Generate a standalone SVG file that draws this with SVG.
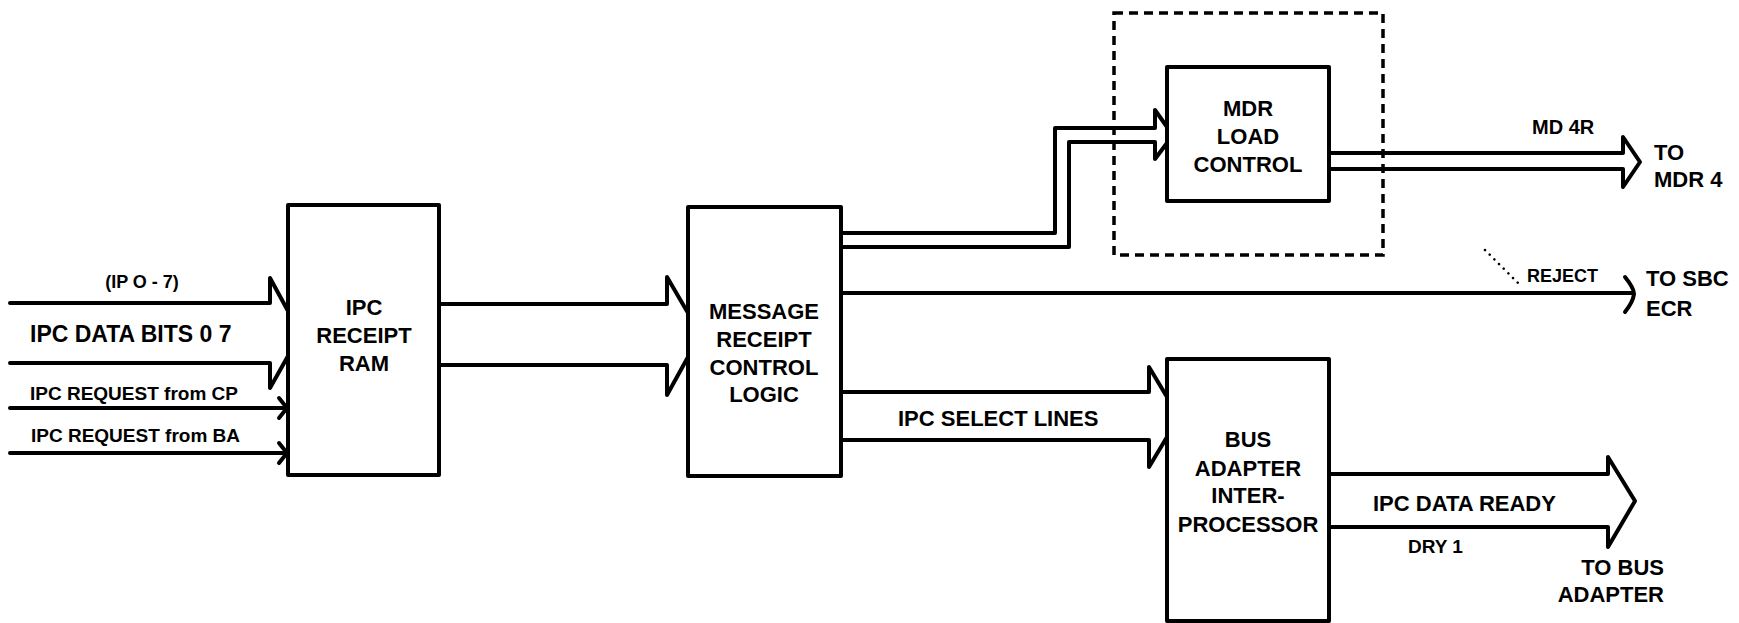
<svg xmlns="http://www.w3.org/2000/svg" width="1739" height="623" viewBox="0 0 1739 623">
<style>
.bg{fill:#ffffff}
.box{fill:#ffffff;stroke:#000;stroke-width:4;stroke-linejoin:round}
.dash{fill:none;stroke:#000;stroke-width:3.5;stroke-dasharray:9 6}
.ln{fill:none;stroke:#000;stroke-width:4;stroke-linejoin:round;stroke-linecap:round}
.dot{fill:none;stroke:#000;stroke-width:2.5;stroke-dasharray:0.1 6.5;stroke-linecap:round}
text{font-family:"Liberation Sans",Arial,sans-serif;font-weight:bold;fill:#000}
.c{text-anchor:middle;font-size:22px}
.l22{font-size:22px}
</style>
<rect class="bg" x="0" y="0" width="1739" height="623"/>
<g id="connectors">
  <!-- IPC data bits bus into RAM -->
  <path class="ln" d="M10,303 H270 V278 L288,311"/>
  <path class="ln" d="M10,363 H270 V388 L288,356"/>
  <!-- request lines -->
  <path class="ln" d="M10,408 H286"/>
  <path class="ln" d="M279,398 L287,408 L279,418"/>
  <path class="ln" d="M10,453 H286"/>
  <path class="ln" d="M279,443 L287,453 L279,463"/>
  <!-- RAM to MRCL -->
  <path class="ln" d="M439,304 H667 V277 L688,313"/>
  <path class="ln" d="M439,365 H667 V395 L688,357"/>
  <!-- MRCL to MDR LOAD CONTROL -->
  <path class="ln" d="M841,233 H1055 V128 H1155 V110 L1167,127"/>
  <path class="ln" d="M841,247 H1069 V142 H1155 V159 L1167,143"/>
  <!-- MD 4R output -->
  <path class="ln" d="M1329,153 H1623 V137 L1640,162 L1623,187 V169 H1329"/>
  <!-- REJECT -->
  <path class="ln" d="M841,293 H1632"/>
  <path class="ln" d="M1625,277 Q1634,288 1634,294 Q1633,302 1625,312"/>
  <path class="dot" d="M1485,250 L1521,286"/>
  <!-- IPC select lines -->
  <path class="ln" d="M841,392 H1149 V367 L1167,397"/>
  <path class="ln" d="M841,440 H1149 V467 L1167,437"/>
  <!-- IPC data ready -->
  <path class="ln" d="M1329,474 H1608 V457 L1635,501 L1608,547 V527 H1329"/>
</g>
<g id="dashed-group">
  <rect class="dash" x="1114" y="13" width="269" height="242"/>
</g>
<g id="ipc-receipt-ram">
  <rect class="box" x="288" y="205" width="151" height="270"/>
  <text class="c" x="364" y="315">IPC</text>
  <text class="c" x="364" y="343">RECEIPT</text>
  <text class="c" x="364" y="371">RAM</text>
</g>
<g id="message-receipt-control-logic">
  <rect class="box" x="688" y="207" width="153" height="269"/>
  <text class="c" x="764" y="319">MESSAGE</text>
  <text class="c" x="764" y="347">RECEIPT</text>
  <text class="c" x="764" y="375">CONTROL</text>
  <text class="c" x="764" y="402">LOGIC</text>
</g>
<g id="mdr-load-control">
  <rect class="box" x="1167" y="67" width="162" height="134"/>
  <text class="c" x="1248" y="116">MDR</text>
  <text class="c" x="1248" y="144">LOAD</text>
  <text class="c" x="1248" y="172">CONTROL</text>
</g>
<g id="bus-adapter-interprocessor">
  <rect class="box" x="1167" y="359" width="162" height="262"/>
  <text class="c" x="1248" y="447">BUS</text>
  <text class="c" x="1248" y="476">ADAPTER</text>
  <text class="c" x="1248" y="503">INTER-</text>
  <text class="c" x="1248" y="532">PROCESSOR</text>
</g>
<g id="labels">
  <text x="142" y="288" text-anchor="middle" font-size="18">(IP O - 7)</text>
  <text x="30" y="342" font-size="23">IPC DATA BITS 0 7</text>
  <text x="30" y="400" font-size="19">IPC REQUEST from CP</text>
  <text x="31" y="442" font-size="19">IPC REQUEST from BA</text>
  <text x="898" y="426" class="l22">IPC SELECT LINES</text>
  <text x="1532" y="134" font-size="20">MD 4R</text>
  <text x="1654" y="160" class="l22">TO</text>
  <text x="1654" y="187" class="l22">MDR 4</text>
  <text x="1527" y="282" font-size="18">REJECT</text>
  <text x="1646" y="286" class="l22">TO SBC</text>
  <text x="1646" y="316" class="l22">ECR</text>
  <text x="1373" y="511" class="l22">IPC DATA READY</text>
  <text x="1408" y="553" font-size="19">DRY 1</text>
  <text x="1664" y="575" text-anchor="end" class="l22">TO BUS</text>
  <text x="1664" y="602" text-anchor="end" class="l22">ADAPTER</text>
</g>
</svg>
